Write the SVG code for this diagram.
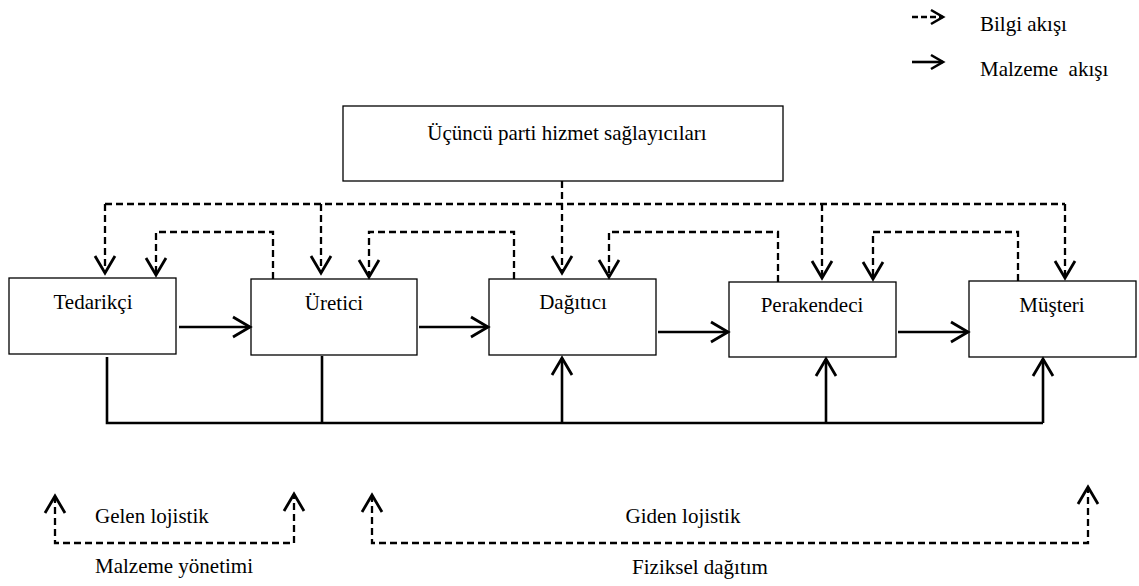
<svg xmlns="http://www.w3.org/2000/svg" width="1139" height="586" viewBox="0 0 1139 586">
  <defs>
    <marker id="head" markerUnits="userSpaceOnUse" markerWidth="24" markerHeight="26" viewBox="-20 -13 24 26" refX="0" refY="0" orient="auto-start-reverse">
      <path d="M-17,-10 L0,0 L-17,10" fill="none" stroke="#000000" stroke-width="2.8"/>
    </marker>
    <marker id="headSmall" markerUnits="userSpaceOnUse" markerWidth="18" markerHeight="20" viewBox="-15 -10 18 20" refX="0" refY="0" orient="auto">
      <path d="M-12,-7 L0,0 L-12,7" fill="none" stroke="#000000" stroke-width="2.6"/>
    </marker>
  </defs>

  <rect width="1139" height="586" fill="#ffffff"/>

  <!-- legend -->
  <g id="legend">
    <line x1="912" y1="17" x2="943" y2="17" fill="none" stroke="#000" stroke-width="2.3" stroke-dasharray="6 3" marker-end="url(#headSmall)"/>
    <text x="980" y="31" font-family="Times New Roman, Liberation Serif, serif" font-size="21">Bilgi akışı</text>
    <line x1="912" y1="62" x2="943" y2="62" fill="none" stroke="#000" stroke-width="2.6" marker-end="url(#headSmall)"/>
    <text x="980" y="76" font-family="Times New Roman, Liberation Serif, serif" font-size="21">Malzeme&#160; akışı</text>
  </g>

  <!-- nodes -->
  <g id="node-ucuncu-parti">
    <rect x="343" y="106" width="440" height="75" fill="#fff" stroke="#000" stroke-width="1.3"/>
    <text x="567" y="140" text-anchor="middle" font-family="Times New Roman, Liberation Serif, serif" font-size="21">Üçüncü parti hizmet sağlayıcıları</text>
  </g>
  <g id="node-tedarikci">
    <rect x="9" y="278" width="167" height="76" fill="#fff" stroke="#000" stroke-width="1.3"/>
    <text x="93" y="309" text-anchor="middle" font-family="Times New Roman, Liberation Serif, serif" font-size="21">Tedarikçi</text>
  </g>
  <g id="node-uretici">
    <rect x="251" y="279" width="166" height="76" fill="#fff" stroke="#000" stroke-width="1.3"/>
    <text x="334" y="310" text-anchor="middle" font-family="Times New Roman, Liberation Serif, serif" font-size="21">Üretici</text>
  </g>
  <g id="node-dagitici">
    <rect x="489" y="279" width="167" height="76" fill="#fff" stroke="#000" stroke-width="1.3"/>
    <text x="573" y="309" text-anchor="middle" font-family="Times New Roman, Liberation Serif, serif" font-size="21">Dağıtıcı</text>
  </g>
  <g id="node-perakendeci">
    <rect x="729" y="282" width="167" height="75" fill="#fff" stroke="#000" stroke-width="1.3"/>
    <text x="812" y="312" text-anchor="middle" font-family="Times New Roman, Liberation Serif, serif" font-size="21">Perakendeci</text>
  </g>
  <g id="node-musteri">
    <rect x="969" y="281" width="167" height="76" fill="#fff" stroke="#000" stroke-width="1.3"/>
    <text x="1052" y="312" text-anchor="middle" font-family="Times New Roman, Liberation Serif, serif" font-size="21">Müşteri</text>
  </g>

  <!-- connectors -->
  <g id="connectors" fill="none" stroke="#000">
    <!-- information flow from service providers -->
    <g stroke-width="2.3" stroke-dasharray="7 4">
      <line x1="105" y1="204" x2="1065" y2="204"/>
      <line x1="562" y1="181" x2="562" y2="273" marker-end="url(#head)"/>
      <line x1="105" y1="204" x2="105" y2="273" marker-end="url(#head)"/>
      <line x1="321" y1="204" x2="321" y2="273" marker-end="url(#head)"/>
      <line x1="822" y1="204" x2="822" y2="278" marker-end="url(#head)"/>
      <line x1="1065" y1="204" x2="1065" y2="278" marker-end="url(#head)"/>
      <!-- information flow back upstream -->
      <polyline points="273,279 273,232 156,232 156,275" marker-end="url(#head)"/>
      <polyline points="514,279 514,232 369,232 369,277" marker-end="url(#head)"/>
      <polyline points="778,282 778,232 609,232 609,277" marker-end="url(#head)"/>
      <polyline points="1018,281 1018,232 873,232 873,279" marker-end="url(#head)"/>
    </g>
    <g stroke-width="2.6">
      <!-- material flow downstream -->
      <line x1="179" y1="327" x2="250" y2="327" marker-end="url(#head)"/>
      <line x1="419" y1="327" x2="488" y2="327" marker-end="url(#head)"/>
      <line x1="658" y1="332" x2="728" y2="332" marker-end="url(#head)"/>
      <line x1="898" y1="332" x2="968" y2="332" marker-end="url(#head)"/>
      <!-- shared material bus -->
      <polyline points="107,357 107,423 1043,423"/>
      <line x1="322" y1="356" x2="322" y2="423"/>
      <line x1="562" y1="423" x2="562" y2="358" marker-end="url(#head)"/>
      <line x1="826" y1="423" x2="826" y2="359" marker-end="url(#head)"/>
      <line x1="1043" y1="423" x2="1043" y2="359" marker-end="url(#head)"/>
    </g>
  </g>

  <!-- logistics spans -->
  <g id="inbound">
    <polyline points="55,496 55,543 294,543 294,494" fill="none" stroke="#000" stroke-width="2.3" stroke-dasharray="7 4" marker-start="url(#head)" marker-end="url(#head)"/>
    <text x="95" y="523" font-family="Times New Roman, Liberation Serif, serif" font-size="21">Gelen lojistik</text>
    <text x="95" y="573" font-family="Times New Roman, Liberation Serif, serif" font-size="21">Malzeme yönetimi</text>
  </g>
  <g id="outbound">
    <polyline points="372,495 372,543 1088,543 1088,487" fill="none" stroke="#000" stroke-width="2.3" stroke-dasharray="7 4" marker-start="url(#head)" marker-end="url(#head)"/>
    <text x="683" y="523" text-anchor="middle" font-family="Times New Roman, Liberation Serif, serif" font-size="21">Giden lojistik</text>
    <text x="700" y="574" text-anchor="middle" font-family="Times New Roman, Liberation Serif, serif" font-size="21">Fiziksel dağıtım</text>
  </g>
</svg>
